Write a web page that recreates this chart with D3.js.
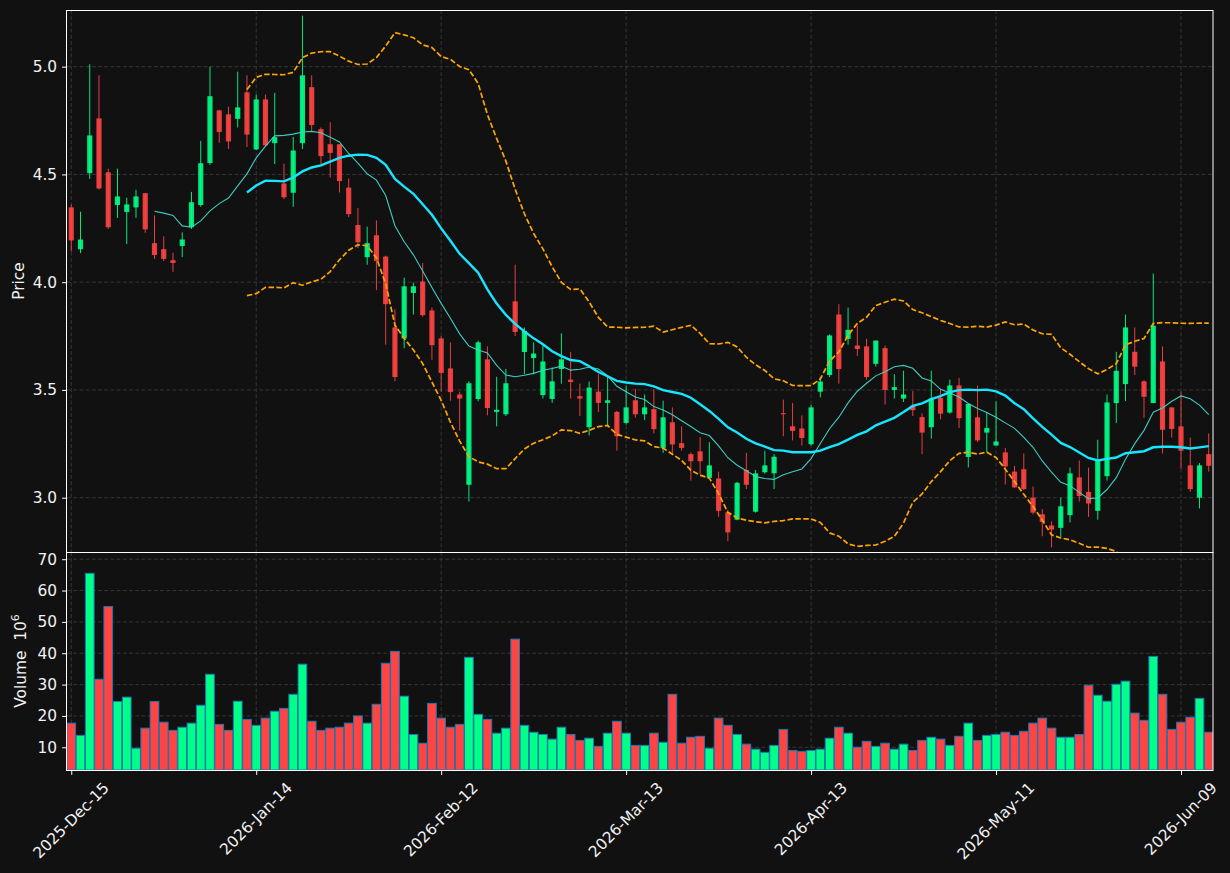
<!DOCTYPE html>
<html>
<head>
<meta charset="utf-8">
<script src="https://cdn.jsdelivr.net/npm/d3@7"></script>
<style>
  body { margin: 0; background: #111111; }
  svg { display: block; font-family: "DejaVu Sans", sans-serif; }
</style>
</head>
<body>
<div id="chart"></div>
<script>
// daily bars, 2025-Dec-15 .. 2026-Jun-12 (trading days only)
var opens = [
  4.347, 4.153, 4.506, 4.760, 4.510, 4.358, 4.326, 4.347, 4.413, 4.181,
  4.153, 4.102, 4.168, 4.255, 4.358, 4.553, 4.797, 4.779, 4.758, 4.881,
  4.616, 4.848, 4.645, 4.458, 4.415, 4.645, 4.905, 4.710, 4.640, 4.640,
  4.439, 4.265, 4.116, 4.218, 4.119, 3.790, 3.739, 3.950, 4.003, 3.869,
  3.739, 3.600, 3.479, 3.060, 3.458, 3.642, 3.398, 3.387, 3.911, 3.676,
  3.648, 3.476, 3.458, 3.597, 3.548, 3.471, 3.327, 3.492, 3.440, 3.398,
  3.347, 3.452, 3.387, 3.411, 3.231, 3.350, 3.253, 3.202, 3.215, 3.092,
  3.089, 2.932, 2.898, 3.129, 2.935, 3.118, 3.113, 3.392, 3.331, 3.321,
  3.248, 3.492, 3.569, 3.850, 3.737, 3.706, 3.702, 3.621, 3.694, 3.500,
  3.460, 3.427, 3.374, 3.327, 3.463, 3.395, 3.521, 3.189, 3.373, 3.302,
  3.242, 3.210, 3.121, 3.132, 3.000, 2.923, 2.871, 2.860, 2.919, 3.094,
  3.027, 2.939, 3.100, 3.439, 3.527, 3.677, 3.540, 3.439, 3.632, 3.419,
  3.331, 3.150, 3.000, 3.202
];
var highs = [
  4.360, 4.327, 5.011, 4.960, 4.527, 4.527, 4.392, 4.429, 4.413, 4.310,
  4.213, 4.137, 4.231, 4.419, 4.656, 5.000, 4.800, 4.815, 4.977, 4.960,
  4.871, 4.871, 4.879, 4.550, 4.674, 5.237, 4.960, 4.718, 4.742, 4.640,
  4.481, 4.345, 4.258, 4.287, 4.123, 3.874, 4.021, 3.998, 4.089, 3.882,
  3.750, 3.721, 3.492, 3.540, 3.729, 3.702, 3.561, 3.598, 4.081, 3.790,
  3.721, 3.708, 3.605, 3.763, 3.677, 3.529, 3.539, 3.573, 3.565, 3.403,
  3.519, 3.505, 3.479, 3.503, 3.450, 3.419, 3.331, 3.210, 3.282, 3.258,
  3.121, 2.944, 3.073, 3.208, 3.129, 3.218, 3.202, 3.455, 3.440, 3.382,
  3.431, 3.560, 3.758, 3.898, 3.882, 3.798, 3.737, 3.729, 3.706, 3.573,
  3.589, 3.495, 3.392, 3.589, 3.505, 3.548, 3.556, 3.435, 3.521, 3.395,
  3.447, 3.231, 3.148, 3.205, 3.052, 2.947, 2.890, 3.000, 3.140, 3.173,
  3.140, 3.269, 3.479, 3.677, 3.850, 3.790, 3.545, 4.040, 3.702, 3.419,
  3.492, 3.279, 3.161, 3.298
];
var lows = [
  4.142, 4.135, 4.479, 4.430, 4.247, 4.298, 4.177, 4.298, 4.229, 4.108,
  4.098, 4.048, 4.116, 4.247, 4.350, 4.544, 4.647, 4.618, 4.718, 4.627,
  4.613, 4.630, 4.548, 4.385, 4.350, 4.618, 4.702, 4.548, 4.485, 4.416,
  4.302, 4.158, 4.081, 3.963, 3.710, 3.540, 3.694, 3.850, 3.840, 3.640,
  3.492, 3.450, 3.311, 2.982, 3.447, 3.382, 3.331, 3.379, 3.750, 3.573,
  3.573, 3.460, 3.440, 3.529, 3.460, 3.379, 3.289, 3.398, 3.331, 3.218,
  3.339, 3.371, 3.360, 3.298, 3.208, 3.202, 3.218, 3.079, 3.110, 3.089,
  2.911, 2.798, 2.895, 3.040, 2.931, 3.111, 3.040, 3.285, 3.266, 3.242,
  3.242, 3.465, 3.560, 3.529, 3.710, 3.658, 3.548, 3.608, 3.432, 3.460,
  3.444, 3.379, 3.202, 3.274, 3.363, 3.390, 3.323, 3.140, 3.258, 3.210,
  3.242, 3.061, 3.045, 3.035, 2.923, 2.821, 2.769, 2.818, 2.885, 2.982,
  2.911, 2.898, 3.079, 3.347, 3.448, 3.569, 3.371, 3.439, 3.205, 3.279,
  3.134, 3.027, 2.950, 3.121
];
var closes = [
  4.194, 4.198, 4.681, 4.435, 4.255, 4.398, 4.361, 4.398, 4.245, 4.126,
  4.108, 4.089, 4.198, 4.371, 4.552, 4.863, 4.697, 4.653, 4.811, 4.685,
  4.848, 4.635, 4.673, 4.394, 4.611, 4.960, 4.729, 4.585, 4.600, 4.469,
  4.316, 4.185, 4.181, 4.098, 3.898, 3.560, 3.981, 3.981, 3.847, 3.708,
  3.579, 3.490, 3.460, 3.531, 3.721, 3.416, 3.408, 3.531, 3.769, 3.774,
  3.669, 3.632, 3.540, 3.642, 3.537, 3.460, 3.511, 3.440, 3.452, 3.285,
  3.419, 3.387, 3.419, 3.318, 3.373, 3.247, 3.231, 3.169, 3.169, 3.150,
  2.939, 2.839, 3.069, 3.060, 3.113, 3.150, 3.190, 3.387, 3.310, 3.277,
  3.419, 3.539, 3.753, 3.597, 3.779, 3.690, 3.560, 3.729, 3.500, 3.513,
  3.479, 3.406, 3.302, 3.460, 3.390, 3.521, 3.369, 3.435, 3.266, 3.323,
  3.261, 3.145, 3.048, 3.040, 2.931, 2.887, 2.852, 2.960, 3.113, 3.008,
  2.973, 3.174, 3.442, 3.589, 3.790, 3.608, 3.468, 3.798, 3.315, 3.319,
  3.218, 3.040, 3.150, 3.148
];
// volume in millions
var volumes = [
  17.7, 13.8, 65.5, 31.7, 54.9, 24.6, 26.0, 9.7, 16.1, 24.6,
  18.0, 15.4, 16.4, 17.7, 23.4, 33.3, 17.3, 15.4, 24.7, 18.9,
  17.0, 19.3, 21.5, 22.4, 26.9, 36.5, 18.3, 15.4, 16.1, 16.4,
  17.7, 20.0, 17.7, 23.7, 36.8, 40.6, 26.3, 14.1, 11.3, 24.0,
  19.3, 16.4, 17.3, 38.7, 20.5, 18.9, 14.5, 16.1, 44.5, 17.0,
  14.8, 14.1, 12.6, 16.4, 14.1, 12.2, 12.9, 10.3, 14.5, 18.3,
  14.5, 10.6, 10.6, 14.5, 11.6, 26.9, 11.3, 13.2, 13.5, 9.7,
  19.3, 17.0, 14.1, 11.0, 9.4, 8.4, 10.6, 15.7, 9.0, 8.7,
  9.0, 9.4, 12.9, 16.4, 14.5, 10.0, 11.9, 10.3, 11.3, 9.4,
  11.0, 9.0, 12.2, 13.2, 12.6, 10.6, 13.5, 17.7, 12.2, 13.8,
  14.1, 14.8, 13.8, 15.1, 17.7, 19.3, 16.1, 13.2, 13.2, 14.1,
  29.8, 26.6, 24.7, 30.1, 31.1, 20.9, 18.6, 39.0, 26.9, 15.7,
  18.0, 19.6, 25.6, 14.8
];

var tickIdx = [0, 20, 40, 60, 80, 100, 120];
var tickLabels = ["2025-Dec-15", "2026-Jan-14", "2026-Feb-12", "2026-Mar-13",
                  "2026-Apr-13", "2026-May-11", "2026-Jun-09"];
var priceTicks = [3.0, 3.5, 4.0, 4.5, 5.0];
var volTicks = [10, 20, 30, 40, 50, 60, 70];

var fastPeriod = 10, slowPeriod = 20, bandWidth = 2;

// moving averages / bollinger from the closes
function rolling(n, fn) {
  return closes.map(function(c, i) {
    if (i < n - 1) return null;
    return fn(closes.slice(i - n + 1, i + 1));
  });
}
var maFast = rolling(fastPeriod, d3.mean);
var maSlow = rolling(slowPeriod, d3.mean);
var sd = rolling(slowPeriod, function(w) {
  var m = d3.mean(w);
  return Math.sqrt(d3.mean(w, function(v) { return (v - m) * (v - m); }));
});
var bbUp = maSlow.map(function(m, i) { return m == null ? null : m + bandWidth * sd[i]; });
var bbLo = maSlow.map(function(m, i) { return m == null ? null : m - bandWidth * sd[i]; });

var W = 1230, H = 873;
var left = 67, right = 1213, pTop = 10, pBot = 552, vTop = 552, vBot = 770;
var upCol = "#00ff88", downCol = "#ff4444";
var txtCol = "#f2f2f2", fs = "15.4px";

var svg = d3.select("#chart").append("svg")
  .attr("width", W).attr("height", H);
svg.append("rect").attr("width", W).attr("height", H).attr("fill", "#111111");

var x = d3.scaleLinear().domain([-0.46, 123.46]).range([left, right]);
var y = d3.scaleLinear().domain([2.748, 5.263]).range([pBot, pTop]);
var yv = d3.scaleLinear().domain([2.75, 72.3]).range([vBot, vTop]);
var step = x(1) - x(0);

var defs = svg.append("defs");
defs.append("clipPath").attr("id", "clipP").append("rect")
  .attr("x", left).attr("y", pTop).attr("width", right - left).attr("height", pBot - pTop);
defs.append("clipPath").attr("id", "clipV").append("rect")
  .attr("x", left).attr("y", vTop).attr("width", right - left).attr("height", vBot - vTop);

// grid
function grid(g, yScale, vals, y0, y1) {
  g.selectAll(".hg").data(vals).enter().append("line")
    .attr("x1", left).attr("x2", right)
    .attr("y1", function(d) { return yScale(d); }).attr("y2", function(d) { return yScale(d); });
  g.selectAll(".vg").data(tickIdx).enter().append("line")
    .attr("x1", function(d) { return x(d); }).attr("x2", function(d) { return x(d); })
    .attr("y1", y0).attr("y2", y1);
  g.selectAll("line").attr("stroke", "#3a3a3a").attr("stroke-width", 0.9)
    .attr("stroke-dasharray", "4,2.2");
}
grid(svg.append("g"), y, priceTicks, pTop, pBot);
grid(svg.append("g"), yv, volTicks, vTop, vBot);

// price panel
var pg = svg.append("g").attr("clip-path", "url(#clipP)");
var idx = d3.range(closes.length);
function col(i) { return closes[i] >= opens[i] ? upCol : downCol; }

pg.selectAll(".wick").data(idx).enter().append("line")
  .attr("x1", function(i) { return x(i); }).attr("x2", function(i) { return x(i); })
  .attr("y1", function(i) { return y(highs[i]); }).attr("y2", function(i) { return y(lows[i]); })
  .attr("stroke", col).attr("stroke-width", 1).attr("opacity", 0.9);

var bw = step * 0.56;
pg.selectAll(".body").data(idx).enter().append("rect")
  .attr("x", function(i) { return x(i) - bw / 2; })
  .attr("y", function(i) { return y(Math.max(opens[i], closes[i])); })
  .attr("width", bw)
  .attr("height", function(i) { return Math.max(1, Math.abs(y(opens[i]) - y(closes[i]))); })
  .attr("fill", col).attr("opacity", 0.9);

function drawLine(vals, color, width, dash, op) {
  var line = d3.line()
    .defined(function(d) { return d != null; })
    .x(function(d, i) { return x(i); })
    .y(function(d) { return y(d); });
  pg.append("path").datum(vals)
    .attr("d", line)
    .attr("fill", "none")
    .attr("stroke", color)
    .attr("stroke-width", width)
    .attr("stroke-dasharray", dash)
    .attr("opacity", op);
}
drawLine(maFast, "#40d6c8", 1.1, null, 0.95);
drawLine(maSlow, "#16e6ff", 2.4, null, 1);
drawLine(bbUp, "#ffa500", 1.7, "5.5,2.4", 1);
drawLine(bbLo, "#ffa500", 1.7, "5.5,2.4", 1);

// volume panel
var vg = svg.append("g").attr("clip-path", "url(#clipV)");
var vw = step * 0.94;
vg.selectAll(".vol").data(idx).enter().append("rect")
  .attr("x", function(i) { return x(i) - vw / 2; })
  .attr("y", function(i) { return yv(volumes[i]); })
  .attr("width", vw)
  .attr("height", function(i) { return yv.range()[0] - yv(volumes[i]); })
  .attr("fill", col)
  .attr("stroke", "#1f77b4").attr("stroke-width", 1);

// frames (aligned to pixel centres)
svg.append("rect").attr("x", left - 0.5).attr("y", pTop + 0.5).attr("width", right - left + 0.5)
  .attr("height", pBot - pTop).attr("fill", "none").attr("stroke", "#ffffff").attr("stroke-width", 1);
svg.append("rect").attr("x", left - 0.5).attr("y", vTop + 0.5).attr("width", right - left + 0.5)
  .attr("height", vBot - vTop).attr("fill", "none").attr("stroke", "#ffffff").attr("stroke-width", 1);

// y axes
function styleAxis(g) {
  g.select(".domain").remove();
  g.selectAll(".tick line").attr("stroke", "#ffffff");
  g.selectAll(".tick text").attr("fill", txtCol).style("font-size", fs)
    .style("font-family", "DejaVu Sans, sans-serif");
}
svg.append("g").attr("transform", "translate(" + left + ",0)")
  .call(d3.axisLeft(y).tickValues(priceTicks).tickFormat(d3.format(".1f")).tickSize(4.9).tickPadding(5))
  .call(styleAxis);
svg.append("g").attr("transform", "translate(" + left + ",0)")
  .call(d3.axisLeft(yv).tickValues(volTicks).tickFormat(d3.format("d")).tickSize(4.9).tickPadding(5))
  .call(styleAxis);

// x axis ticks + rotated labels
var xa = svg.append("g").attr("transform", "translate(0," + vBot + ")")
  .call(d3.axisBottom(x).tickValues(tickIdx).tickFormat("").tickSize(4.9));
styleAxis(xa);

tickIdx.forEach(function(t, k) {
  var outer = svg.append("g");
  var inner = outer.append("g").attr("transform", "rotate(-45)");
  inner.append("text")
    .attr("text-anchor", "end")
    .attr("fill", txtCol)
    .style("font-size", fs)
    .text(tickLabels[k]);
  var bb = outer.node().getBBox();
  outer.attr("transform", "translate(" + (x(t) - (bb.x + bb.width / 2)) + "," + (vBot + 9 - bb.y) + ")");
});

// axis titles
svg.append("text")
  .attr("transform", "translate(24," + ((pTop + pBot) / 2) + ") rotate(-90)")
  .attr("text-anchor", "middle").attr("fill", txtCol).style("font-size", fs)
  .text("Price");
var vl = svg.append("text")
  .attr("transform", "translate(26," + ((vTop + vBot) / 2) + ") rotate(-90)")
  .attr("text-anchor", "middle").attr("fill", txtCol).style("font-size", fs)
  .style("white-space", "pre");
vl.append("tspan").text("Volume  10");
vl.append("tspan").attr("dy", -7).style("font-size", "11px").text("6");
</script>
</body>
</html>
